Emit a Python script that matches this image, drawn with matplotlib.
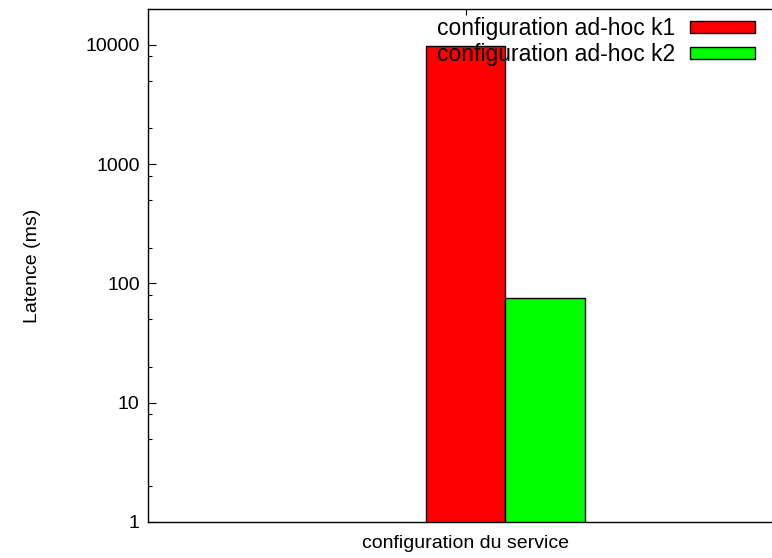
import matplotlib
matplotlib.use("Agg")
import matplotlib.pyplot as plt
from matplotlib.ticker import LogLocator, NullFormatter, FixedLocator

plt.rcParams['font.family'] = ['Liberation Sans', 'DejaVu Sans']

categories = ["configuration du service"]
series_names = ["configuration ad-hoc k1", "configuration ad-hoc k2"]
k1_values = [9800]
k2_values = [75]
colors = ["#ff0000", "#00ff00"]
ytick_values = [1, 10, 100, 1000, 10000]
ytick_labels = ["1", "10", "100", "1000", "10000"]

fig = plt.figure(figsize=(7.72, 5.58), dpi=100)
ax = fig.add_axes([148/772, (558-522)/558, (783-148)/772, (522-9)/558])

x = list(range(len(categories)))
ax.bar(x, k1_values, width=1.0, color=colors[0], edgecolor="black", linewidth=1, label=series_names[0], zorder=2)
ax.bar([i + 1 for i in x], k2_values, width=1.0, color=colors[1], edgecolor="black", linewidth=1, label=series_names[1], zorder=2)

ax.set_yscale("log")
ax.set_ylim(1, 20000)
ax.set_xlim(-4, 4)
ax.yaxis.set_major_locator(FixedLocator(ytick_values))
ax.set_yticklabels(ytick_labels)
ax.yaxis.set_minor_locator(LogLocator(base=10, subs=[2, 5, 8]))
ax.yaxis.set_minor_formatter(NullFormatter())
ax.set_xticks(x)
ax.set_xticklabels([""])
ax.set_axisbelow(True)

ax.tick_params(axis="y", which="major", direction="in", length=5.5, width=0.8, right=True, labelsize=14, pad=6)
ax.tick_params(axis="y", which="minor", direction="in", length=2.8, width=0.8, right=True)
ax.tick_params(axis="x", which="major", direction="in", length=4, width=0.8, top=True)
for s in ax.spines.values():
    s.set_linewidth(1.0)

ax.set_xlabel(categories[0], fontsize=14, labelpad=6)
ax.set_ylabel("Latence (ms)", fontsize=14, labelpad=32)

leg = ax.legend(loc="upper right", bbox_to_anchor=((755-148)/(783-148), 1 - 8/513), frameon=False,
                fontsize=16.5, markerfirst=False, handlelength=2.83, handleheight=0.45,
                labelspacing=0.15, handletextpad=0.65, borderaxespad=0, borderpad=0)
leg.set_zorder(10)

fig.savefig("out.png", dpi=100)
